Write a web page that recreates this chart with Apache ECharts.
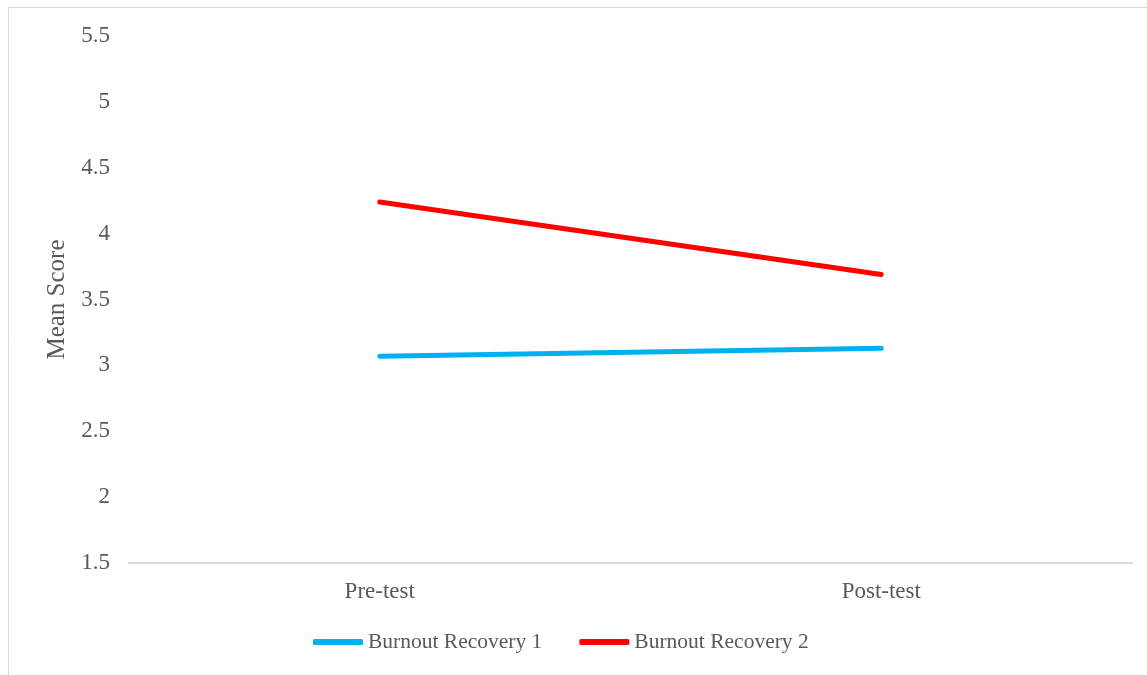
<!DOCTYPE html>
<html>
<head>
<meta charset="utf-8">
<script src="https://cdn.jsdelivr.net/npm/echarts@6/dist/echarts.min.js"></script>
<style>
  html, body { margin: 0; padding: 0; background: #fff; }
  #chart { width: 1147px; height: 675px; }
</style>
</head>
<body>
<div id="chart"></div>
<script>
// Mean scores at the two measurement points
const categories = ['Pre-test', 'Post-test'];
const recovery1 = [3.07, 3.13];
const recovery2 = [4.24, 3.69];
const seriesNames = ['Burnout Recovery 1', 'Burnout Recovery 2'];
const yTicks = { min: 1.5, max: 5.5, step: 0.5 };

const textColor = '#595959';
const fontFamily = '"Liberation Serif", "Times New Roman", serif';

const chart = echarts.init(document.getElementById('chart'), null, { renderer: 'canvas' });

chart.setOption({
  backgroundColor: '#ffffff',
  animation: false,
  textStyle: { fontFamily: fontFamily, color: textColor },
  graphic: [{
    type: 'rect',
    shape: { x: 8.5, y: 7.5, width: 1300, height: 800 },
    style: { fill: 'none', stroke: '#d9d9d9', lineWidth: 1 },
    silent: true
  }],
  grid: { left: 129, right: 15, top: 36, bottom: 112, containLabel: false },
  legend: {
    top: 631,
    left: 313,
    padding: 0,
    itemWidth: 50,
    itemHeight: 6,
    itemGap: 37,
    icon: 'roundRect',
    textStyle: { fontFamily: fontFamily, fontSize: 21.5, color: textColor, padding: [0, 0, 0, 0] },
    data: seriesNames
  },
  xAxis: {
    type: 'category',
    data: categories,
    boundaryGap: true,
    axisLine: { show: true, lineStyle: { color: '#d9d9d9', width: 2 } },
    axisTick: { show: false },
    axisLabel: { fontFamily: fontFamily, fontSize: 23, color: textColor, margin: 17 },
    splitLine: { show: false }
  },
  yAxis: {
    type: 'value',
    min: yTicks.min,
    max: yTicks.max,
    interval: yTicks.step,
    name: 'Mean Score',
    nameLocation: 'middle',
    nameGap: 58,
    nameRotate: 90,
    nameTextStyle: { fontFamily: fontFamily, fontSize: 25, color: textColor },
    axisLine: { show: false },
    axisTick: { show: false },
    axisLabel: { fontFamily: fontFamily, fontSize: 23, color: textColor, margin: 19 },
    splitLine: { show: false }
  },
  series: [
    {
      name: seriesNames[0],
      type: 'line',
      data: recovery1,
      showSymbol: false,
      symbol: 'none',
      lineStyle: { color: '#00B0F0', width: 5, cap: 'round' },
      itemStyle: { color: '#00B0F0' }
    },
    {
      name: seriesNames[1],
      type: 'line',
      data: recovery2,
      showSymbol: false,
      symbol: 'none',
      lineStyle: { color: '#FF0000', width: 5, cap: 'round' },
      itemStyle: { color: '#FF0000' }
    }
  ]
});
</script>
</body>
</html>
